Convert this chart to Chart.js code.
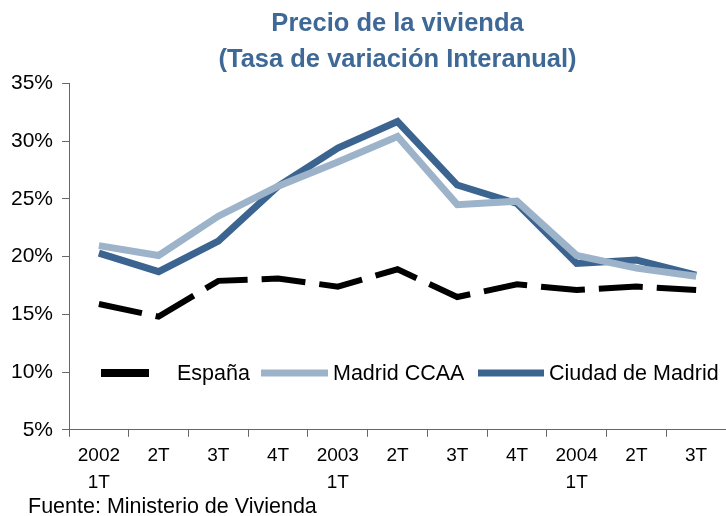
<!DOCTYPE html>
<html>
<head>
<meta charset="utf-8">
<script src="https://cdn.jsdelivr.net/npm/chart.js@4/dist/chart.umd.min.js"></script>
<style>
  html, body { margin: 0; padding: 0; background: #fff; }
  #wrap { position: relative; width: 726px; height: 516px; }
  #source {
    position: absolute; left: 28px; top: 494px;
    font: 21.5px "Liberation Sans", Arial, sans-serif; color: #000;
  }
</style>
</head>
<body>
<div id="wrap">
  <canvas id="chart" width="726" height="516"></canvas>
  <div id="source">Fuente: Ministerio de Vivienda</div>
</div>
<script>
const quarters = [
  ["2002", "1T"], "2T", "3T", "4T",
  ["2003", "1T"], "2T", "3T", "4T",
  ["2004", "1T"], "2T", "3T"
];
const espana = [15.9, 14.8, 17.9, 18.1, 17.4, 18.9, 16.5, 17.6, 17.1, 17.4, 17.1];
const madridCCAA = [20.95, 20.1, 23.5, 26.1, 28.2, 30.4, 24.5, 24.8, 20.1, 19.0, 18.3];
const ciudadMadrid = [20.3, 18.7, 21.35, 26.1, 29.4, 31.7, 26.2, 24.6, 19.4, 19.7, 18.4];

const FONT = "'Liberation Sans', Arial, sans-serif";
const COLORS = {
  espana: "#000000",
  ccaa: "#9CB3CA",
  ciudad: "#3B6590",
  title: "#3E6896",
  axis: "#666666"
};

// legend drawn inside the plot, like the original
const insideLegend = {
  id: "insideLegend",
  afterDraw(chart) {
    const ctx = chart.ctx;
    const y = 373;
    const items = [
      { x1: 101, x2: 149, tx: 177, label: "España", color: COLORS.espana, w: 8 },
      { x1: 261, x2: 328, tx: 333, label: "Madrid CCAA", color: COLORS.ccaa, w: 7 },
      { x1: 478, x2: 544, tx: 549, label: "Ciudad de Madrid", color: COLORS.ciudad, w: 7 }
    ];
    ctx.save();
    ctx.font = "21.5px " + FONT;
    ctx.textBaseline = "middle";
    ctx.fillStyle = "#000";
    items.forEach(it => {
      ctx.beginPath();
      ctx.lineWidth = it.w;
      ctx.strokeStyle = it.color;
      ctx.moveTo(it.x1, y);
      ctx.lineTo(it.x2, y);
      ctx.stroke();
      ctx.fillText(it.label, it.tx, y + 1);
    });
    ctx.restore();
  }
};

new Chart(document.getElementById("chart"), {
  type: "line",
  data: {
    labels: quarters,
    datasets: [
      {
        label: "España",
        data: espana,
        borderColor: COLORS.espana,
        borderWidth: 6,
        borderDash: [44, 14],
        borderCapStyle: "butt",
        pointRadius: 0,
        tension: 0
      },
      {
        label: "Madrid CCAA",
        data: madridCCAA,
        borderColor: COLORS.ccaa,
        borderWidth: 7,
        pointRadius: 0,
        tension: 0
      },
      {
        label: "Ciudad de Madrid",
        data: ciudadMadrid,
        borderColor: COLORS.ciudad,
        borderWidth: 7,
        pointRadius: 0,
        tension: 0
      }
    ]
  },
  options: {
    animation: false,
    responsive: false,
    layout: { padding: { top: 0, right: 0, bottom: 14, left: 2 } },
    scales: {
      x: {
        offset: true,
        border: { color: COLORS.axis, width: 1 },
        grid: {
          offset: true,
          drawOnChartArea: false,
          tickLength: 7,
          color: COLORS.axis
        },
        ticks: {
          color: "#000",
          font: { family: FONT, size: 19, lineHeight: 1.4 },
          maxRotation: 0,
          autoSkip: false,
          padding: 6
        }
      },
      y: {
        min: 5,
        max: 35,
        border: { color: COLORS.axis, width: 1 },
        grid: {
          drawOnChartArea: false,
          tickLength: 7,
          color: COLORS.axis
        },
        ticks: {
          stepSize: 5,
          color: "#000",
          font: { family: FONT, size: 21 },
          padding: 9,
          callback: v => v + "%"
        }
      }
    },
    plugins: {
      legend: { display: false },
      tooltip: { enabled: false },
      title: {
        display: true,
        fullSize: false,
        text: ["Precio de la vivienda", "(Tasa de variación Interanual)"],
        color: COLORS.title,
        font: { family: FONT, size: 25.5, weight: "bold", lineHeight: 1.42 },
        padding: { top: 6, bottom: 5 }
      }
    }
  },
  plugins: [insideLegend]
});
</script>
</body>
</html>
